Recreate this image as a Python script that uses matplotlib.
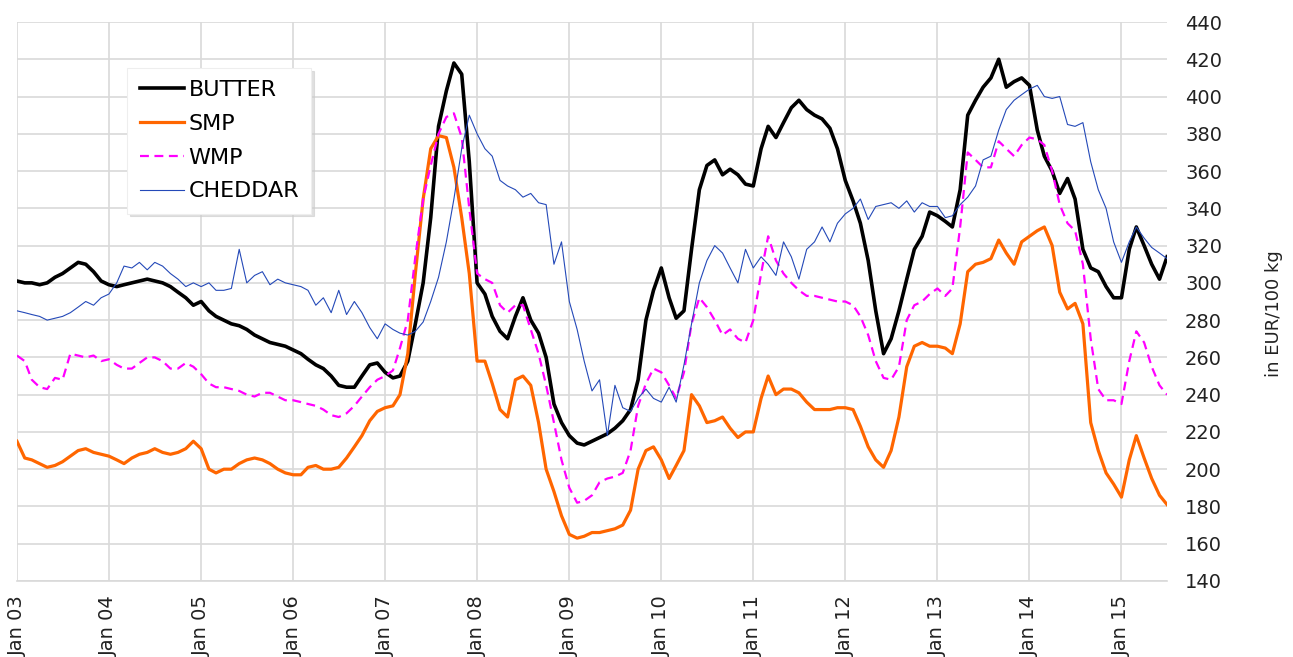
import matplotlib.pyplot as plt
import matplotlib.dates as mdates
import pandas as pd

# monthly values, Jan 2003 .. Jul 2015 (EUR/100 kg)
dates = pd.date_range('2003-01-01', '2015-07-01', freq='MS')

butter = [301, 300, 300, 299, 300, 303, 305, 308, 311, 310, 306, 301,
          299, 298, 299, 300, 301, 302, 301, 300, 298, 295, 292, 288,
          290, 285, 282, 280, 278, 277, 275, 272, 270, 268, 267, 266,
          264, 262, 259, 256, 254, 250, 245, 244, 244, 250, 256, 257,
          252, 249, 250, 258, 278, 300, 335, 384, 403, 418, 412, 365,
          300, 294, 282, 274, 270, 282, 292, 280, 273, 260, 235, 225,
          218, 214, 213, 215, 217, 219, 222, 226, 232, 248, 280, 296,
          308, 292, 281, 285, 318, 350, 363, 366, 358, 361, 358, 353,
          352, 372, 384, 378, 386, 394, 398, 393, 390, 388, 383, 372,
          355, 344, 332, 312, 285, 262, 270, 285, 302, 318, 325, 338,
          336, 333, 330, 350, 390, 398, 405, 410, 420, 405, 408, 410,
          406, 382, 368, 360, 348, 356, 345, 318, 308, 306, 298, 292,
          292, 318, 330, 320, 310, 302, 314]

smp = [215, 206, 205, 203, 201, 202, 204, 207, 210, 211, 209, 208,
       207, 205, 203, 206, 208, 209, 211, 209, 208, 209, 211, 215,
       211, 200, 198, 200, 200, 203, 205, 206, 205, 203, 200, 198,
       197, 197, 201, 202, 200, 200, 201, 206, 212, 218, 226, 231,
       233, 234, 240, 262, 305, 345, 372, 379, 378, 362, 335, 305,
       258, 258, 246, 232, 228, 248, 250, 245, 225, 200, 188, 175,
       165, 163, 164, 166, 166, 167, 168, 170, 178, 200, 210, 212,
       205, 195, 202, 210, 240, 234, 225, 226, 228, 222, 217, 220,
       220, 238, 250, 240, 243, 243, 241, 236, 232, 232, 232, 233,
       233, 232, 223, 212, 205, 201, 210, 228, 255, 266, 268, 266,
       266, 265, 262, 278, 306, 310, 311, 313, 323, 316, 310, 322,
       325, 328, 330, 320, 295, 286, 289, 278, 225, 210, 198, 192,
       185, 205, 218, 206, 195, 186, 181]

wmp = [261, 258, 248, 244, 243, 249, 248, 262, 261, 260, 261, 258,
       259, 256, 254, 254, 257, 260, 260, 258, 254, 254, 257, 255,
       251, 246, 244, 244, 243, 242, 240, 239, 241, 241, 239, 237,
       237, 236, 235, 234, 232, 229, 228, 230, 234, 239, 244, 248,
       250, 253, 265, 280, 314, 345, 363, 380, 389, 391, 378, 340,
       305, 302, 300, 288, 284, 288, 288, 275, 262, 245, 225, 205,
       190, 182, 183, 186, 193, 195, 196, 198, 210, 234, 246, 254,
       252, 245, 238, 252, 278, 292, 287, 280, 272, 275, 270, 268,
       280, 305, 325, 312, 305, 300, 296, 293, 293, 292, 291, 290,
       290, 288, 282, 272, 258, 249, 248, 255, 280, 288, 290, 294,
       297, 293, 297, 330, 370, 366, 362, 362, 376, 372, 368, 374,
       378, 377, 374, 360, 342, 332, 328, 310, 270, 243, 237, 237,
       235, 258, 274, 268, 255, 245, 240]

cheddar = [285, 284, 283, 282, 280, 281, 282, 284, 287, 290, 288, 292,
           294, 300, 309, 308, 311, 307, 311, 309, 305, 302, 298, 300,
           298, 300, 296, 296, 297, 318, 300, 304, 306, 299, 302, 300,
           299, 298, 296, 288, 292, 284, 296, 283, 290, 284, 276, 270,
           278, 275, 273, 272, 274, 279, 290, 303, 322, 345, 372, 390,
           380, 372, 368, 355, 352, 350, 346, 348, 343, 342, 310, 322,
           290, 275, 258, 242, 248, 218, 245, 233, 231, 238, 243, 238,
           236, 244, 236, 256, 278, 300, 312, 320, 316, 308, 300, 318,
           308, 314, 310, 304, 322, 314, 302, 318, 322, 330, 322, 332,
           337, 340, 345, 334, 341, 342, 343, 340, 344, 338, 343, 341,
           341, 335, 336, 342, 346, 352, 366, 368, 382, 393, 398, 401,
           404, 406, 400, 399, 400, 385, 384, 386, 365, 350, 340, 322,
           311, 322, 330, 324, 319, 316, 313]

fig = plt.figure(figsize=(12.93, 6.57), dpi=100)
ax = fig.add_axes([0.0131, 0.1157, 0.8895, 0.8508])

ax.plot(dates, butter, color='black', lw=2.6, label='BUTTER')
ax.plot(dates, smp, color='#ff6600', lw=2.3, label='SMP')
ax.plot(dates, wmp, color='#ff00ff', lw=1.6, ls=(0, (4, 2.5)), label='WMP')
ax.plot(dates, cheddar, color='#2449b8', lw=0.8, label='CHEDDAR')

ax.set_xlim(pd.Timestamp('2003-01-01'), pd.Timestamp('2015-07-01'))
ax.set_ylim(140, 440)
ax.set_yticks(range(140, 441, 20))
ax.xaxis.set_major_locator(mdates.YearLocator())
ax.xaxis.set_major_formatter(mdates.DateFormatter('Jan %y'))

ax.yaxis.tick_right()
ax.yaxis.set_label_position('right')
ax.tick_params(axis='y', length=0, pad=13, labelsize=14, labelcolor='#222222')
ax.tick_params(axis='x', length=0, pad=10, labelsize=14, labelrotation=90,
               labelcolor='#222222')
ax.set_ylabel('in EUR/100 kg', fontsize=13, color='#222222')
ax.yaxis.set_label_coords(1.085, 0.478)

ax.grid(True, color='#d9d9d9', lw=1.2)
ax.set_axisbelow(True)
for s in ['top', 'left', 'right']:
    ax.spines[s].set_visible(False)
ax.spines['bottom'].set_color('#d9d9d9')
ax.spines['bottom'].set_linewidth(1.2)

leg = ax.legend(loc='upper left', bbox_to_anchor=(0.096, 0.918), fontsize=16,
                frameon=True, fancybox=False,
                shadow={'ox': 2, 'oy': -2, 'color': '#cccccc', 'alpha': 0.6},
                handlelength=2.0, handletextpad=0.2, labelspacing=0.62,
                borderpad=0.55, borderaxespad=0)
leg.get_frame().set_edgecolor('#eeeeee')
leg.get_frame().set_linewidth(0.8)

fig.savefig('out.png', dpi=100)
